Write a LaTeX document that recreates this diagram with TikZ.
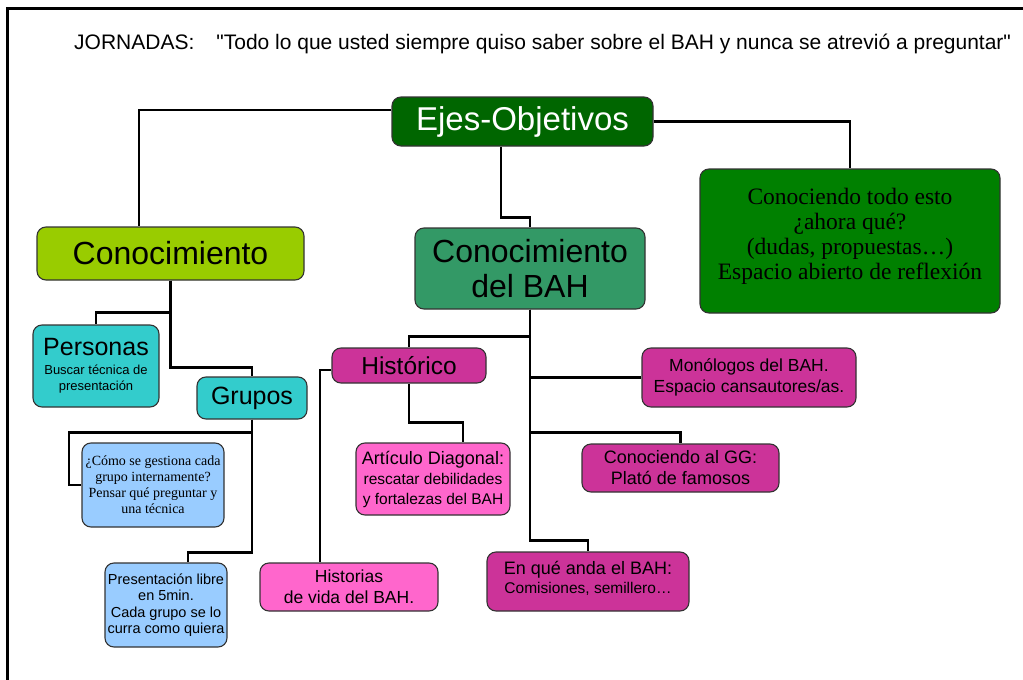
\documentclass[tikz,border=0pt]{standalone}
\usepackage{fontspec}
\setmainfont{Liberation Sans}
\newfontfamily\timesfont{Liberation Serif}
\newfontfamily\titlefont{Liberation Sans}

\definecolor{ejesgreen}{RGB}{0,102,0}
\definecolor{conocgreen}{RGB}{153,204,0}
\definecolor{bahgreen}{RGB}{51,153,102}
\definecolor{todogreen}{RGB}{0,128,0}
\definecolor{turq}{RGB}{51,204,204}
\definecolor{skyblue}{RGB}{153,204,255}
\definecolor{magentabox}{RGB}{204,51,153}
\definecolor{pinkbox}{RGB}{255,102,204}

\newcommand\fsz[2]{\fontsize{#1}{#2}\selectfont}

\tikzset{
  box/.style={draw=black!80, line width=1.1pt, rounded corners=9pt, align=center, inner sep=2pt},
  conn/.style={draw=black, line width=2.6pt}
}

\begin{document}
\begin{tikzpicture}[x=1pt,y=-1pt]
\useasboundingbox (0,0) rectangle (1023,680);
\draw[line width=3pt] (7,680) -- (7,8) -- (1023,8);

\node[anchor=base west, inner sep=0pt, font=\titlefont\fsz{21}{24}] (titulo) at (74,49)
  {JORNADAS:\hspace{22pt}"Todo lo que usted siempre quiso saber sobre el BAH y nunca se atrevió a preguntar"};

% ejes
\node[box, fill=ejesgreen, text=white, minimum width=261pt, minimum height=49pt, font=\fsz{33}{36}] (ejes) at (522.5,121.5) {Ejes-Objetivos};
\node[box, fill=conocgreen, minimum width=267pt, minimum height=53pt, font=\fsz{32}{35}] (conoc) at (170.5,253.5) {Conocimiento};
\node[box, fill=bahgreen, minimum width=230pt, minimum height=81pt, font=\fsz{32}{35}] (bah) at (530,268.5) {Conocimiento\\del BAH};
\node[box, fill=todogreen, minimum width=300pt, minimum height=144pt, font=\timesfont\fsz{23.5}{25}] (todo) at (850,241)
  {Conociendo todo esto\\¿ahora qué?\\(dudas, propuestas…)\\Espacio abierto de reflexión\\[-10pt]\mbox{}};

% conocimiento
\node[box, fill=turq, minimum width=126pt, minimum height=82pt, font=\fsz{13}{16}] (personas) at (96,366)
  {\fsz{25}{27}Personas\\[3pt]Buscar técnica de\\presentación};
\node[box, fill=turq, minimum width=110pt, minimum height=42pt, font=\fsz{25}{27}] (grupos) at (252,398) {Grupos};
\node[box, fill=skyblue, minimum width=142pt, minimum height=84pt, font=\timesfont\fsz{14}{16}] (gestion) at (153,485)
  {¿Cómo se gestiona cada\\grupo internamente?\\Pensar qué preguntar y\\una técnica};
\node[box, fill=skyblue, minimum width=122pt, minimum height=84pt, font=\fsz{14.5}{16.5}] (present) at (166,605)
  {Presentación libre\\en 5min.\\Cada grupo se lo\\curra como quiera};

% del BAH
\node[box, fill=magentabox, minimum width=154pt, minimum height=35pt, font=\fsz{24.5}{27}] (historico) at (409,365.5) {Histórico};
\node[box, fill=pinkbox, minimum width=154pt, minimum height=72pt, font=\fsz{15.5}{20}] (articulo) at (433,479)
  {\fsz{18}{20}Artículo Diagonal:\\rescatar debilidades\\y fortalezas del BAH};
\node[box, fill=pinkbox, minimum width=178pt, minimum height=48pt, font=\fsz{17.5}{21}] (historias) at (349,587)
  {Historias\\de vida del BAH.};
\node[box, fill=magentabox, minimum width=214pt, minimum height=59pt, font=\fsz{17.5}{21}] (monologos) at (749,377.5)
  {Monólogos del BAH.\\Espacio cansautores/as.};
\node[box, fill=magentabox, minimum width=197pt, minimum height=48pt, font=\fsz{18}{21}] (gg) at (680.5,468)
  {Conociendo al GG:\\Plató de famosos};
\node[box, fill=magentabox, minimum width=202pt, minimum height=59pt, font=\fsz{15.5}{19}] (enque) at (588,581.5)
  {\fsz{18}{20}En qué anda el BAH:\\Comisiones, semillero…\\[-11pt]\mbox{}};

% connectors
\draw[conn] ([yshift=11.5pt]ejes.west) -| ([xshift=-31.5pt]conoc.north);
\draw[conn] ([xshift=-21.5pt]ejes.south) -- ++(0,71) -| (bah.north);
\draw[conn] (ejes.east) -| (todo.north);
\draw[conn] (conoc.south) -- ++(0,32) -| (personas.north);
\draw[conn] (conoc.south) -- ++(0,87) -| (grupos.north);
\draw[conn] (grupos.south) -- ++(0,13) -- ++(-183,0) |- (gestion.west);
\draw[conn] (grupos.south) -- ++(0,133) -| ([xshift=22pt]present.north);
\draw[conn] ([yshift=-4.5pt]historico.west) -| ([xshift=-29pt]historias.north);
\draw[conn] (bah.south) -- ++(0,27) -| (historico.north);
\draw[conn] (bah.south) |- (monologos.west);
\draw[conn] (bah.south) -- ++(0,123) -| (gg.north);
\draw[conn] (bah.south) -- ++(0,231) -| (enque.north);
\draw[conn] (historico.south) -- ++(0,39) -| ([xshift=30pt]articulo.north);
\end{tikzpicture}
\end{document}
